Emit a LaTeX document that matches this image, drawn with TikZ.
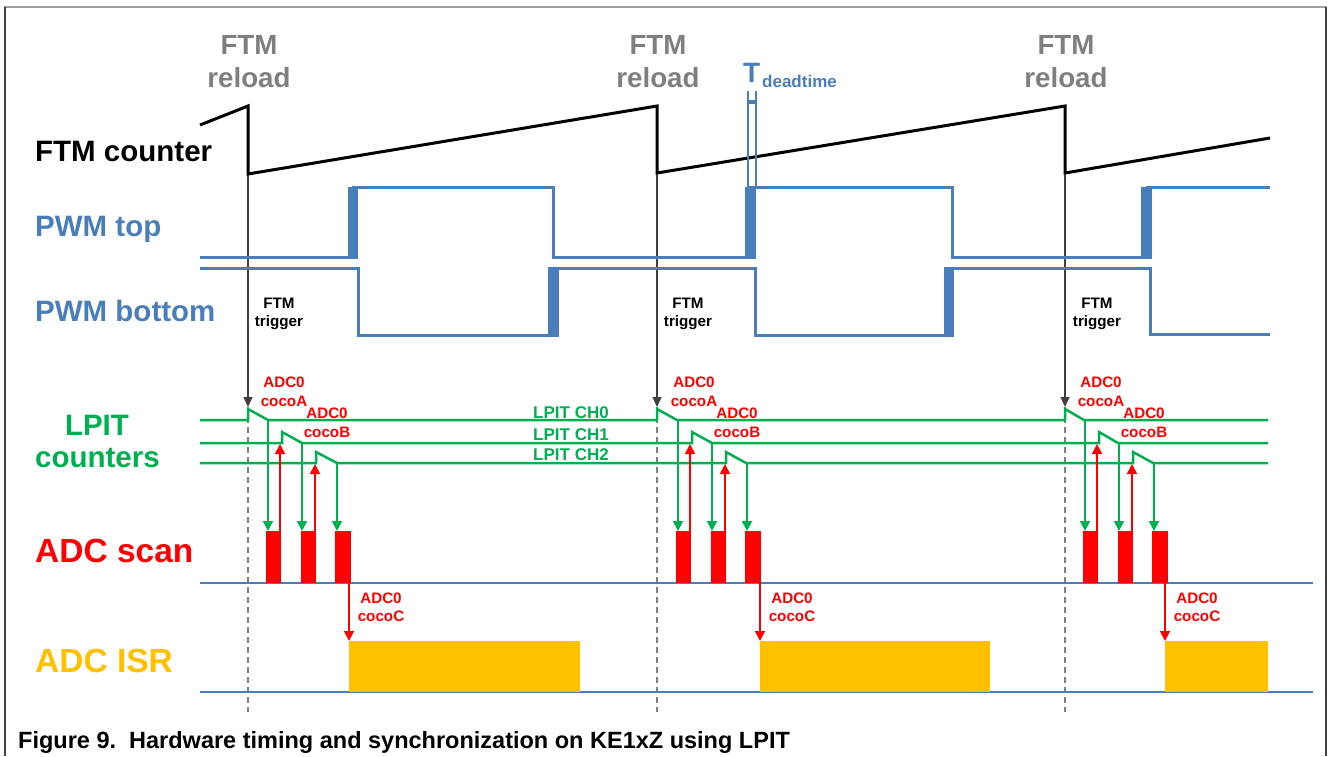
\documentclass[tikz,border=0pt]{standalone}
\usepackage{fontspec}
\setmainfont{Liberation Sans}
\usetikzlibrary{arrows.meta}
\definecolor{pwmblue}{HTML}{4A7EBB}
\definecolor{lpitgreen}{HTML}{00B050}
\definecolor{adcred}{HTML}{FF0000}
\definecolor{isryellow}{HTML}{FFC000}
\definecolor{reloadgray}{HTML}{7F7F7F}
\definecolor{trigdark}{HTML}{404040}
\definecolor{framegray}{HTML}{A0A0A0}
\definecolor{framedark}{HTML}{404040}
\begin{document}
\begin{tikzpicture}[x=1pt,y=-1pt,
  biglbl/.style={font=\fontsize{29.5}{30}\selectfont\bfseries, anchor=base west, inner sep=0},
  adclbl/.style={font=\fontsize{33.5}{34}\selectfont\bfseries, anchor=base west, inner sep=0},
  reloadlbl/.style={font=\fontsize{27.7}{28}\selectfont\bfseries, text=reloadgray, anchor=base, inner sep=0},
  smalllbl/.style={font=\fontsize{15.2}{16}\selectfont\bfseries, anchor=base, inner sep=0},
  chlbl/.style={font=\fontsize{17}{18}\selectfont\bfseries, text=lpitgreen, anchor=base, inner sep=0},
  pwmline/.style={pwmblue, line width=3pt, line join=miter},
  lpitline/.style={lpitgreen, line width=2.5pt, line join=miter},
  garrow/.style={lpitgreen, line width=1.8pt, -{Triangle[length=10pt,width=10pt]}},
  rarrow/.style={adcred, line width=1.8pt, -{Triangle[length=10pt,width=10pt]}},
  trigarrow/.style={trigdark, line width=1.2pt, -{Triangle[length=10pt,width=9pt]}},
  guide/.style={gray, line width=1.5pt, dash pattern=on 6pt off 4pt},
  baseln/.style={pwmblue, line width=1.3pt}]
\useasboundingbox (0,0) rectangle (1328,756);
% frame
\draw[framegray, line width=2pt] (4,7) -- (1327,7);
\draw[framedark, line width=1.5pt] (5,7) -- (5,756);
\draw[framedark, line width=1.5pt] (1326,7) -- (1326,756);

% labels on the left
\node[biglbl] (lcnt) at (35,161) {FTM counter};
\node[biglbl, text=pwmblue] (ltop) at (35,236) {PWM top};
\node[biglbl, text=pwmblue] (lbot) at (35,321) {PWM bottom};
\node[biglbl, text=lpitgreen, anchor=base] (llpit) at (97,435) {LPIT};
\node[biglbl, text=lpitgreen] (lcounters) at (35,467) {counters};
\node[adclbl, text=adcred] (lscan) at (35,562) {ADC scan};
\node[adclbl, text=isryellow] (lisr) at (35,672) {ADC ISR};

% reload labels
\foreach \x/\n in {249/a,658/b,1066/c}{
  \node[reloadlbl] (ftm\n) at (\x,54) {FTM};
  \node[reloadlbl] (rel\n) at (\x,87) {reload};
}

% guide lines (dashed) and trigger arrows
\foreach \x/\n in {248/a,657/b,1065/c}{
  \coordinate (trigtop\n) at (\x,174);
  \coordinate (trigtip\n) at (\x,407);
  \coordinate (guidebot\n) at (\x,712);
  \draw[guide] (trigtip\n) -- (guidebot\n);
  \draw[trigarrow] (trigtop\n) -- (trigtip\n);
}
\foreach \x/\n in {279/a,688/b,1097/c}{
  \node[smalllbl] (tf\n) at (\x,308) {FTM};
  \node[smalllbl] (tt\n) at (\x,326) {trigger};
}

% FTM counter
\draw[black, line width=3pt, line join=miter] (200,125) -- (248,106) -- (248,174) -- (657,106) -- (657,173) -- (1065,106) -- (1065,173) -- (1270,138);

% PWM top
\draw[pwmline] (200,257) -- (353,257) -- (353,187) -- (553,187) -- (553,257) -- (750,257) -- (750,187) -- (952,187) -- (952,257) -- (1147,257) -- (1147,187) -- (1270,187);
\fill[pwmblue] (348,187) rectangle (358,258.5);
\fill[pwmblue] (745,187) rectangle (756,258.5);
\fill[pwmblue] (1141,187) rectangle (1152,258.5);
% PWM bottom
\draw[pwmline] (200,268) -- (358,268) -- (358,335) -- (553,335) -- (553,268) -- (755,268) -- (755,335) -- (949,335) -- (949,268) -- (1150,268) -- (1150,334) -- (1270,334);
\fill[pwmblue] (548,266.5) rectangle (559,336.5);
\fill[pwmblue] (944,266.5) rectangle (954,336.5);

% T deadtime
\draw[pwmblue, line width=1.2pt] (748,91) -- (748,187);
\draw[pwmblue, line width=1.2pt] (756,91) -- (756,187);
\fill[pwmblue] (748,100) rectangle (756,104);
\node[font=\fontsize{28}{28}\selectfont\bfseries, text=pwmblue, anchor=base west, inner sep=0] (tdT) at (743,82) {T};
\node[font=\fontsize{17}{18}\selectfont\bfseries, text=pwmblue, anchor=base west, inner sep=0] (tdsub) at (762,87) {deadtime};

% LPIT lines
\draw[lpitline] (200,420) -- (248,420) -- (248,409) -- (268,420) -- (657,420) -- (657,409) -- (677,420) -- (1065,420) -- (1065,409) -- (1084,420) -- (1268,420);
\draw[lpitline] (200,443) -- (282,443) -- (282,432) -- (302,443) -- (692,443) -- (692,432) -- (712,443) -- (1099,443) -- (1099,432) -- (1118,443) -- (1268,443);
\draw[lpitline] (200,463) -- (316,463) -- (316,452) -- (337,463) -- (726,463) -- (726,452) -- (746,463) -- (1133,463) -- (1133,452) -- (1153,463) -- (1268,463);
\node[chlbl] (ch0) at (571,418) {LPIT CH0};
\node[chlbl] (ch1) at (571,440) {LPIT CH1};
\node[chlbl] (ch2) at (571,460) {LPIT CH2};

% baselines
\draw[baseln] (200,583) -- (1313,583);
\draw[baseln] (200,692) -- (1313,692);

% ADC scan periods
\foreach \o/\n/\is/\ie in {0/a/349/580, 410/b/760/990, 817/c/1165/1268}{
  % red conversion blocks
  \fill[adcred] ({266+\o},531) rectangle ({281+\o},583);
  \fill[adcred] ({301+\o},531) rectangle ({316+\o},583);
  \fill[adcred] ({335+\o},531) rectangle ({351+\o},583);
  % green trigger arrows from LPIT channels
  \coordinate (g0\n) at ({268+\o},420);
  \coordinate (g0e\n) at ({268+\o},531);
  \coordinate (g1\n) at ({302+\o},443);
  \coordinate (g1e\n) at ({302+\o},531);
  \coordinate (g2\n) at ({337+\o},463);
  \coordinate (g2e\n) at ({337+\o},531);
  \draw[garrow] (g0\n) -- (g0e\n);
  \draw[garrow] (g1\n) -- (g1e\n);
  \draw[garrow] (g2\n) -- (g2e\n);
  % red coco arrows
  \coordinate (r0\n) at ({280+\o},531);
  \coordinate (r0e\n) at ({280+\o},444);
  \coordinate (r1\n) at ({315+\o},531);
  \coordinate (r1e\n) at ({315+\o},464);
  \draw[rarrow] (r0\n) -- (r0e\n);
  \draw[rarrow] (r1\n) -- (r1e\n);
  % ISR
  \fill[isryellow] (\is,641) rectangle (\ie,692);
  \coordinate (rc\n) at (\is,583);
  \coordinate (rce\n) at (\is,641);
  \draw[rarrow] (rc\n) -- (rce\n);
  % labels
  \node[smalllbl, text=adcred] (aA\n) at ({284+\o},387) {ADC0};
  \node[smalllbl, text=adcred] (cA\n) at ({284+\o},406) {cocoA};
  \node[smalllbl, text=adcred] (aB\n) at ({327+\o},418) {ADC0};
  \node[smalllbl, text=adcred] (cB\n) at ({327+\o},437) {cocoB};
  \node[smalllbl, text=adcred] (aC\n) at ({\is+32},603) {ADC0};
  \node[smalllbl, text=adcred] (cC\n) at ({\is+32},621) {cocoC};
}

% caption
\node[font=\fontsize{23.5}{24}\selectfont\bfseries, anchor=base west, inner sep=0] (cap) at (18,748) {Figure 9.\ \ Hardware timing and synchronization on KE1xZ using LPIT};
\end{tikzpicture}
\end{document}
